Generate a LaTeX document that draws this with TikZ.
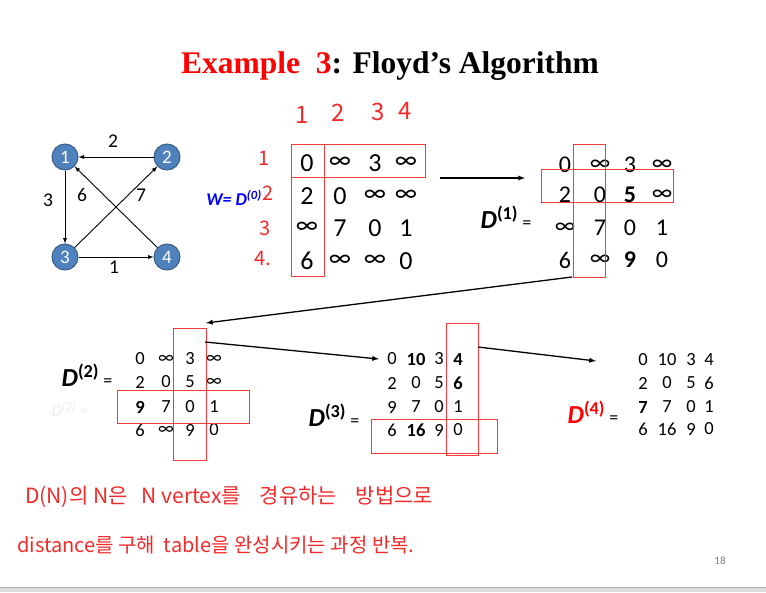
\documentclass[tikz,border=0pt]{standalone}
\usepackage{fontspec}
\setmainfont{Carlito}
\newfontfamily\titlefont{Liberation Serif}
\newfontfamily\krfont{Noto Sans CJK KR}

\definecolor{vfill}{HTML}{4F81BD}
\definecolor{vline}{HTML}{385D8A}
\definecolor{pen}{HTML}{F22A2A}
\definecolor{boxred}{HTML}{F23C3C}

\begin{document}
\begin{tikzpicture}[x=1pt,y=-1pt,
  vert/.style={circle,draw=vline,line width=1pt,fill=vfill,minimum size=26pt,inner sep=0pt,
    text=white,font=\fontsize{19}{19}\selectfont},
  arc/.style={-latex,line width=0.9pt},
  wlabel/.style={font=\fontsize{19.5}{19.5}\selectfont,inner sep=0pt},
  entA/.style={font=\fontsize{26}{26}\selectfont,inner sep=0pt},
  entB/.style={font=\fontsize{24}{24}\selectfont,inner sep=0pt},
  entC/.style={font=\fontsize{18.5}{18.5}\selectfont,inner sep=0pt},
  dlabel/.style={font=\fontsize{26}{26}\selectfont,inner sep=0pt},
  redbox/.style={draw=boxred,line width=0.8pt},
  hand/.style={text=pen,inner sep=0pt},
  step arrow/.style={-latex,line width=1.3pt}]
\useasboundingbox (0,0) rectangle (766,592);

% title
\node[font=\titlefont\bfseries\fontsize{31.5}{31.5}\selectfont,inner sep=0pt] (title) at (390,66)
  {\textcolor{red}{Example\ \ 3}: Floyd’s Algorithm};

% the graph
\node[vert] (v1) at (65,157) {1};
\node[vert] (v2) at (167,157) {2};
\node[vert] (v3) at (65,257) {3};
\node[vert] (v4) at (167,257) {4};
\draw[arc] (v2) -- (v1);
\draw[arc] (v1) -- (v3);
\draw[arc] (v4) -- (v1);
\draw[arc] (v3) -- (v2);
\draw[arc] (v3) -- (v4);
\node[wlabel] (w21) at (113,141) {2};
\node[wlabel] (w13) at (48,200) {3};
\node[wlabel] (w41) at (82,195) {6};
\node[wlabel] (w32) at (141,195) {7};
\node[wlabel] (w34) at (114,267) {1};

% D0
\node[font=\bfseries\itshape\fontsize{18}{18}\selectfont,text=blue,inner sep=0pt] (d0lab) at (234,198)
  {W= D\textsuperscript{(0)}};
\foreach \v [count=\k from 0] in {0,∞,3,∞,2,0,∞,∞,∞,7,0,1,6,∞,∞,0}{
  \pgfmathtruncatemacro\r{\k/4}
  \pgfmathtruncatemacro\c{mod(\k,4)}
  \pgfmathsetmacro\xx{{307,340,375,406}[\c]}
  \pgfmathsetmacro\yy{{163,196,228,261}[\r]}
  \node[entA] (a\r\c) at (\xx,\yy) {\v};
}
\draw[redbox] (291,144) rectangle (324,276);
\draw[redbox] (291,144) rectangle (425,177);

% handwritten indices
\foreach \t/\x/\y in {1/302/115,2/338/113,3/378/112,4/405/111}
  \node[hand,font=\krfont\fontsize{24}{24}\selectfont] (col\t) at (\x,\y) {\t};
\foreach \t/\x/\y in {1/264/158,2/268/193,3/265/228,4./263/258}
  \node[hand,font=\krfont\fontsize{20}{20}\selectfont] (row\t) at (\x,\y) {\t};

% D1
\node[dlabel] (d1lab) at (506,217) {\textbf{\textit{D}}\textsuperscript{\bfseries(1)}\,{\fontsize{18}{18}\selectfont =}};
\foreach \v [count=\k from 0] in {0,∞,3,∞,2,0,{\bfseries 5},∞,∞,7,0,1,6,∞,{\bfseries 9},0}{
  \pgfmathtruncatemacro\r{\k/4}
  \pgfmathtruncatemacro\c{mod(\k,4)}
  \pgfmathsetmacro\xx{{565,600,630,662}[\c]}
  \pgfmathsetmacro\yy{{165,195,228,260}[\r]}
  \node[entB] (b\r\c) at (\xx,\yy) {\v};
}
\draw[redbox] (573,144) rectangle (605,277);
\draw[redbox] (541,169) rectangle (673,202);

% D2
\node[dlabel] (d2lab) at (87,375) {\textbf{\textit{D}}\textsuperscript{\bfseries(2)}\,{\fontsize{18}{18}\selectfont =}};
\node[font=\itshape\fontsize{17}{17}\selectfont,text=black!8,inner sep=0pt] (d2ghost) at (70,409)
  {D\textsuperscript{(2)} =};
\foreach \v [count=\k from 0] in {0,∞,3,∞,2,0,5,∞,{\bfseries 9},7,0,1,6,∞,9,0}{
  \pgfmathtruncatemacro\r{\k/4}
  \pgfmathtruncatemacro\c{mod(\k,4)}
  \pgfmathsetmacro\xx{{140,166,190,214}[\c]}
  \pgfmathsetmacro\yy{{359,382,407,430}[\r]}
  \node[entC] (c\r\c) at (\xx,\yy) {\v};
}
\draw[redbox] (173,328) rectangle (206,460);
\draw[redbox] (117,390) rectangle (249,423);

% D3
\node[dlabel] (d3lab) at (334,415) {\textbf{\textit{D}}\textsuperscript{\bfseries(3)}\,{\fontsize{18}{18}\selectfont =}};
\foreach \v [count=\k from 0] in {0,{\bfseries 10},3,{\bfseries 4},2,0,5,{\bfseries 6},9,7,0,1,6,{\bfseries 16},9,0}{
  \pgfmathtruncatemacro\r{\k/4}
  \pgfmathtruncatemacro\c{mod(\k,4)}
  \pgfmathsetmacro\xx{{392,416,439,458}[\c]}
  \pgfmathsetmacro\yy{{359,383,407,430}[\r]}
  \node[entC] (e\r\c) at (\xx,\yy) {\v};
}
\draw[redbox] (446,323) rectangle (478,455);
\draw[redbox] (371,419) rectangle (497,453);

% D4
\node[dlabel,text=red] (d4lab) at (593,412) {\textbf{\textit{D}}\textsuperscript{\bfseries(4)}\,{\fontsize{18}{18}\selectfont\color{black} =}};
\foreach \v [count=\k from 0] in {0,10,3,4,2,0,5,6,{\bfseries 7},7,0,1,6,16,9,0}{
  \pgfmathtruncatemacro\r{\k/4}
  \pgfmathtruncatemacro\c{mod(\k,4)}
  \pgfmathsetmacro\xx{{643,667,691,709}[\c]}
  \pgfmathsetmacro\yy{{360,383,407,429}[\r]}
  \node[entC] (f\r\c) at (\xx,\yy) {\v};
}

% arrows between the steps
\coordinate (s0) at (440,178);
\coordinate (t0) at (525,178);
\coordinate (s1) at (572,277);
\coordinate (t1) at (206,323);
\coordinate (s2) at (205,342);
\coordinate (t2) at (379,359);
\coordinate (s3) at (478,347);
\coordinate (t3) at (596,361);
\draw[step arrow] (s0) -- (t0);
\draw[step arrow] (s1) -- (t1);
\draw[step arrow] (s2) -- (t2);
\draw[step arrow] (s3) -- (t3);

% handwritten note
\node[hand,anchor=west,font=\krfont\fontsize{21}{21}\selectfont] (note1) at (25,497)
  {D(N)의 N은\ \ \ N vertex를\ \ \ \ 경유하는\ \ \ \ 방법으로};
\node[hand,anchor=west,font=\krfont\fontsize{20}{20}\selectfont] (note2) at (17,545)
  {distance를 구해\ \ table을 완성시키는 과정 반복.};

% page number and bottom band
\node[text=black!50,font=\fontsize{11}{11}\selectfont,inner sep=0pt] (page) at (720,561) {18};
\fill[black!13] (0,587) rectangle (766,592);
\draw[black!30,line width=0.8pt] (0,587) -- (766,587);
\end{tikzpicture}
\end{document}
